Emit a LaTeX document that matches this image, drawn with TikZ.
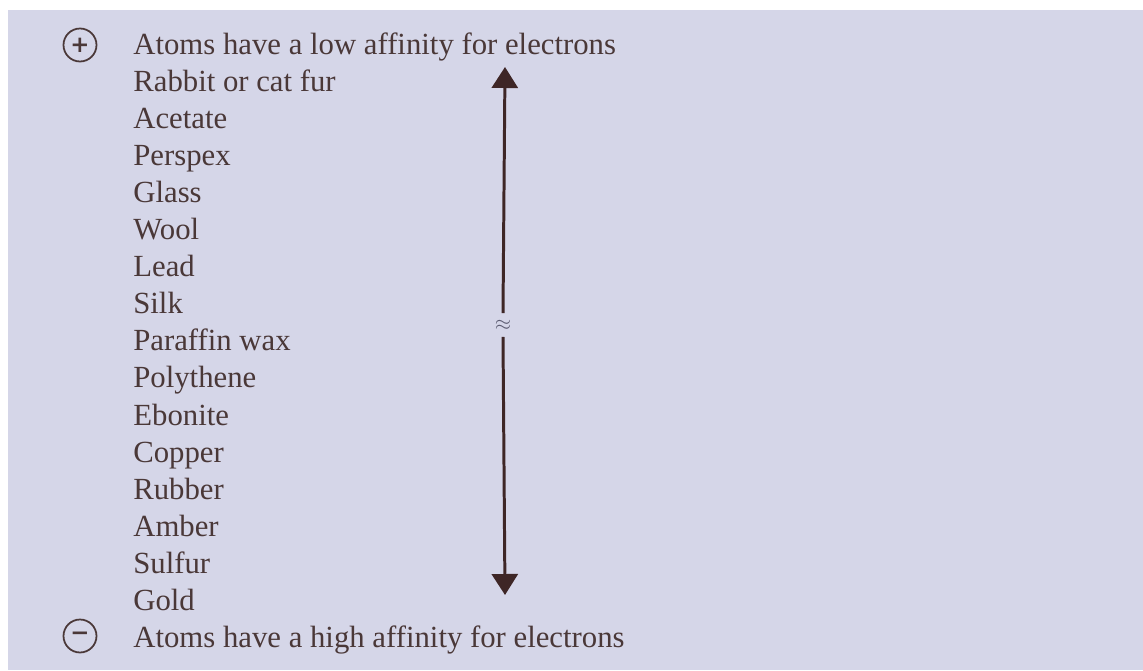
\documentclass[tikz,border=0pt]{standalone}
\usepackage{fontspec}
\setmainfont{Liberation Serif}
\newfontfamily\signfont{DejaVu Sans}
\usetikzlibrary{arrows.meta}
\definecolor{panel}{HTML}{D5D6E8}
\definecolor{ink}{HTML}{4A3838}
\definecolor{shaft}{HTML}{3E2626}
\definecolor{soft}{HTML}{5C5C72}
\tikzset{
  every node/.style={text=ink,inner sep=0pt},
  item/.style={anchor=base west,font=\fontsize{17.5}{20}\selectfont},
  sign/.style={circle,draw=ink,line width=1pt,minimum size=.66cm,
               font=\signfont\bfseries\fontsize{13}{13}\selectfont},
  series/.style={-{Triangle[length=.42cm,width=.52cm]},draw=shaft,line width=1.7pt},
}

\begin{document}
\begin{tikzpicture}[x=.02cm,y=-.02cm]   % one unit = one pixel of the reference, y down
\path[use as bounding box] (0,0) rectangle (1143,670);
\fill[panel] (8,10) rectangle (1143,670);

% the triboelectric series, top = loses electrons, bottom = gains them
\foreach \lab [count=\i from 0] in {Atoms have a low affinity for electrons,
    Rabbit or cat fur,Acetate,Perspex,Glass,Wool,Lead,Silk,Paraffin wax,
    Polythene,Ebonite,Copper,Rubber,Amber,Sulfur,Gold,
    Atoms have a high affinity for electrons}{
  \node[item] (m\i) at (133,{54+37.1*\i}) {\lab};
}
\node[sign] (pos) at (80,45) {+};
\node[sign] (neg) at (80,636) {−};

% double arrow, broken at the middle by an approx sign
\node[text=soft,minimum height=.46cm,font=\large] (gap) at (503,325) {$\approx$};
\coordinate (top) at (505,67);
\coordinate (bot) at (505,595);
\draw[series] (gap.north) -- (top);
\draw[series] (gap.south) -- (bot);
\end{tikzpicture}
\end{document}
